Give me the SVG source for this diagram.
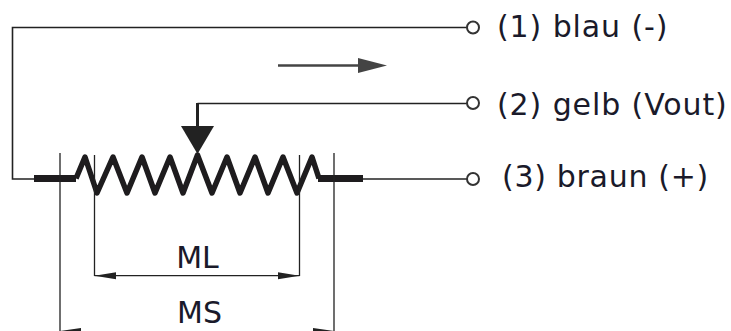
<svg xmlns="http://www.w3.org/2000/svg" width="731" height="331" viewBox="0 0 731 331">
<style>
.w{fill:none;stroke:#222;stroke-width:1.6}
.d{fill:none;stroke:#222;stroke-width:1.3}
.b{fill:none;stroke:#1e1c1e;stroke-width:7}
.z{fill:none;stroke:#1e1c1e;stroke-width:5.500;stroke-linejoin:round}
.t{fill:#fff;stroke:#333;stroke-width:2}
.a{fill:#222}
text{font-family:"DejaVu Sans",Verdana,sans-serif;font-size:30px;fill:#1a1a2a}
.l{letter-spacing:.9px}
.m{letter-spacing:.7px}
</style>
<rect width="731" height="331" fill="#fff"/>
<g id="connectors">
<path class="w" d="M473 27.500H12.500V179H35"/>
<path class="w" d="M473 103.500H197.500"/>
<path d="M197.500 103V128" fill="none" stroke="#222" stroke-width="3"/>
<path class="w" d="M363 179H473"/>
<path d="M278 65.500H360" fill="none" stroke="#444" stroke-width="2.500"/>
<path d="M358 58L387 65.500L358 73Z" fill="#444"/>
</g>
<g id="resistor">
<path class="b" d="M34 178.500H76"/>
<path class="z" d="M76 178.500L85 157L97 193L113 157L127 193L142 157L155 193L170 157L183 193L197.500 155L212 193L227 157L240 193L255 157L268 193L283 157L297 193L312 157L319 178.500"/>
<path class="b" d="M318 178.500H363"/>
<path class="a" d="M181 126H214L197.500 154Z"/>
</g>
<g id="dimension-ml">
<path class="d" d="M94.500 155V276M299.500 155V276M94.500 275.700H299.500"/>
<path class="a" d="M94.500 275.700L116 272.200V279.200ZM299.500 275.700L278 272.200V279.200Z"/>
<text x="197.500" y="268" text-anchor="middle">ML</text>
</g>
<g id="dimension-ms">
<path class="d" d="M60 153V331M334 153V331"/>
<path class="a" d="M60 331L81 328V331ZM334 331L313 328V331Z"/>
<text x="199.500" y="323" text-anchor="middle">MS</text>
</g>
<g id="terminal-1">
<circle class="t" cx="473" cy="27.500" r="6"/>
<text class="l" x="497" y="37">(1) blau (-)</text>
</g>
<g id="terminal-2">
<circle class="t" cx="473" cy="103" r="6"/>
<text class="l" x="497" y="115">(2) gelb (Vout)</text>
</g>
<g id="terminal-3">
<circle class="t" cx="473" cy="179" r="6"/>
<text class="m" x="502" y="187">(3) braun (+)</text>
</g>
</svg>
